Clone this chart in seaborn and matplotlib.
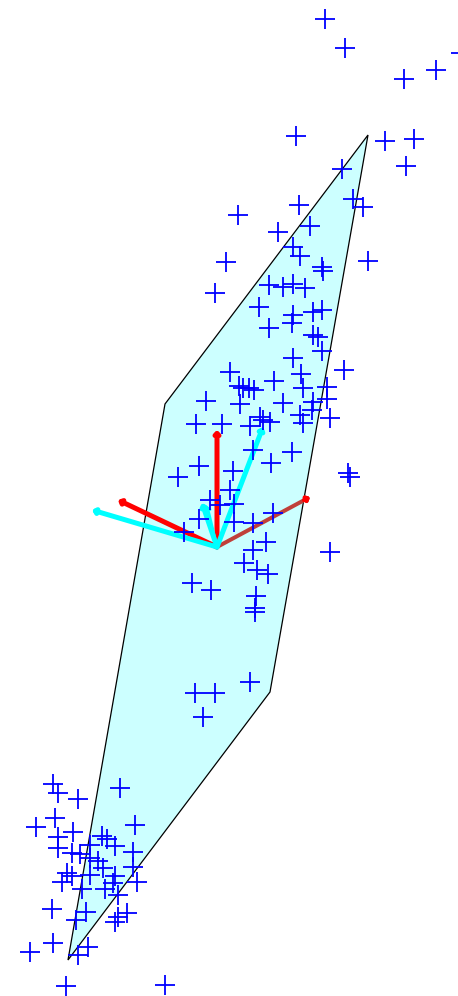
import matplotlib
matplotlib.use("Agg")
import matplotlib.pyplot as plt
from matplotlib.patches import Polygon
import pandas as pd
import seaborn as sns

# Projected sample scores (screen units, y grows downward)
score_x = [
    325, 345, 404, 436, 461, 296, 385, 414, 406, 342, 353, 363, 299, 238, 278,
    310, 293, 300, 226, 322, 323, 368, 215, 269, 283, 293, 305, 259, 293, 313,
    322, 269, 292, 313, 318, 322, 293, 301, 344, 230, 239, 243, 249, 254, 274,
    303, 327, 206, 240, 283, 313, 327, 312, 196, 222, 250, 260, 263, 270, 300,
    303, 330, 253, 292, 271, 199, 233, 178, 348, 350, 230, 210, 220, 234, 234,
    199, 184, 253, 273, 266, 253, 244, 257, 268, 192, 211, 256, 255, 255, 330,
    250, 195, 215, 203,
    53, 58, 78, 120, 55, 36, 135, 73, 58, 102, 107, 58, 115, 90, 72, 80, 90,
    98, 133, 67, 72, 62, 90, 103, 115, 133, 137, 82, 105, 113, 118, 52, 86, 76,
    127, 115, 118, 53, 30, 88, 78, 66, 165,
]
score_y = [
    19, 48, 79, 70, 53, 136, 141, 139, 166, 169, 199, 207, 205, 215, 232,
    226, 247, 256, 262, 267, 271, 261, 293, 285, 287, 284, 288, 307, 315, 312,
    310, 328, 323, 335, 337, 351, 358, 374, 370, 372, 386, 388, 388, 390, 381,
    388, 387, 401, 404, 403, 402, 399, 410, 424, 424, 426, 417, 420, 422, 415,
    423, 418, 450, 452, 463, 466, 471, 477, 473, 477, 490, 500, 505, 504, 522,
    519, 532, 523, 513, 542, 550, 563, 570, 574, 583, 590, 596, 608, 612, 552,
    682, 693, 693, 717,
    784, 793, 799, 788, 818, 827, 825, 832, 837, 836, 839, 848, 846, 845, 853,
    854, 858, 861, 852, 873, 876, 882, 875, 868, 876, 867, 882, 889, 889, 883,
    895, 909, 912, 920, 913, 922, 917, 943, 952, 947, 955, 986, 985,
]

# Parallelogram spanned by the first two components
plane_x = [368, 270, 68, 165]
plane_y = [135, 692, 960, 404]

# Loading vectors drawn from the common origin
origin = (217, 547)
vec_tip_x = [217, 118, 92, 310, 263, 202, 207]
vec_tip_y = [430, 500, 510, 497, 427, 503, 506]
vec_color = ["#ff0000", "#ff0000", "#00ffff", "#c0403a", "#00ffff", "#00ffff", "#00ffff"]
vec_width = [5, 5, 5, 4, 5, 5, 3]

scores = pd.DataFrame({"x": score_x, "y": score_y})

sns.set_theme(style="white")
fig = plt.figure(figsize=(4.58, 9.96), dpi=100)
ax = fig.add_axes([0, 0, 1, 1])

ax.add_patch(Polygon(list(zip(plane_x, plane_y)), closed=True,
                     facecolor="#ccffff", edgecolor="black", lw=0.9, zorder=1))

head = "-|>,head_length=0.12,head_width=0.12"
for tx, ty, c, w in zip(vec_tip_x, vec_tip_y, vec_color, vec_width):
    ax.annotate("", xy=(tx, ty), xytext=origin,
                arrowprops=dict(arrowstyle=head, color=c, lw=w * 0.72,
                                shrinkA=0, shrinkB=0),
                zorder=2)
# the brownish vector ends in a bright red tip
ax.annotate("", xy=(vec_tip_x[3], vec_tip_y[3]),
            xytext=(vec_tip_x[3] - 6, vec_tip_y[3] + 3),
            arrowprops=dict(arrowstyle=head, color="#ff0000", lw=3,
                            shrinkA=0, shrinkB=0),
            zorder=2)

sns.scatterplot(data=scores, x="x", y="y", marker="+", s=190, color="#0000ff",
                linewidth=1.3, ax=ax, zorder=3, legend=False)
ax.set_xlim(0, 458)
ax.set_ylim(996, 0)
ax.axis("off")

fig.savefig("out.png", dpi=100)
